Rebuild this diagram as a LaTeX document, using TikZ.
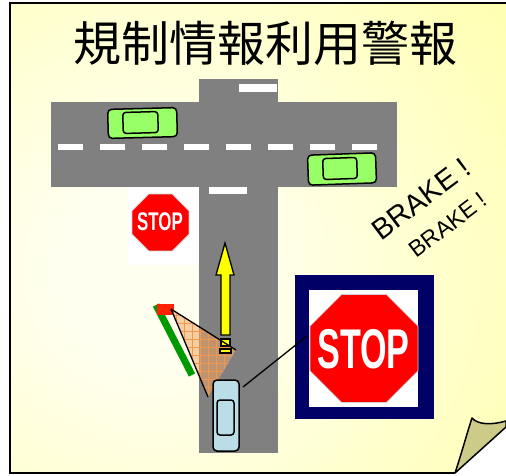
\documentclass[tikz,border=0pt]{standalone}
\usepackage{fontspec}
\setmainfont{Liberation Sans}
\newfontfamily\jpfont{Noto Sans CJK JP}
\usetikzlibrary{shapes.geometric,patterns.meta}

\definecolor{noteyellow}{HTML}{FFFF99}
\definecolor{notelight}{HTML}{FFFFF0}
\definecolor{roadgray}{HTML}{808080}
\definecolor{cargreen}{HTML}{99FF66}
\definecolor{egoblue}{HTML}{BBDDE6}
\definecolor{flapolive}{HTML}{CCCC88}
\definecolor{signred}{HTML}{FF0000}
\definecolor{signnavy}{HTML}{000066}
\definecolor{fanorange}{HTML}{F4A460}
\definecolor{fangrid}{HTML}{F09850}
\definecolor{sensorred}{HTML}{FF2200}
\definecolor{bargreen}{HTML}{009900}
\definecolor{arrowyellow}{HTML}{FFFF00}

% pale centre fading out to the yellow of the note
\pgfdeclareradialshading{notebg}{\pgfpoint{0bp}{0bp}}{%
  color(0bp)=(notelight); color(4bp)=(notelight); color(26bp)=(noteyellow); color(50bp)=(noteyellow)}

\tikzset{
  outline/.style={line width=1.5},
  car/.style={draw, line width=1.5, rounded corners=4, inner sep=0, outer sep=0},
  carwin/.style={draw, line width=1.5, rounded corners=3, inner sep=0, outer sep=0},
  octagon/.style={regular polygon, regular polygon sides=8, inner sep=0, outer sep=0,
    fill=signred, draw=black!18, line width=0.8},
  stoptext/.style={anchor=base, text=white, inner sep=0, font=\bfseries},
  braketext/.style={inner sep=0, font=\fontsize{#1}{#1}\selectfont},
  sensorline/.style={line width=1.3},
}

\begin{document}
\begin{tikzpicture}[x=1pt,y=-1pt]
\useasboundingbox (0,0) rectangle (506,475);

% the note paper
\begin{scope}
  \clip (10,3) -- (506,3) -- (506,427) -- (455,473) -- (10,473) -- cycle;
  \shade[shading=notebg] (150,270) circle (560);
\end{scope}
\draw[outline] (506,3) -- (10,3) -- (10,473) -- (455,473);
% curled corner
\filldraw[fill=flapolive, outline, line join=round]
  (455,473) .. controls (462,452) and (467,433) .. (472,418)
  .. controls (478,425) and (492,425) .. (506,421) -- (506,427) -- cycle;

% title
\node[font=\jpfont\fontsize{48}{48}\selectfont, inner sep=0] (title) at (265,43) {規制情報利用警報};

% roads
\fill[roadgray] (51,102) rectangle (397,187);
\fill[roadgray] (199,79) rectangle (278,453);
\foreach \x in {58,100,...,352} \fill[white] (\x,144) rectangle ++(25,6);
\fill[white] (239,84) rectangle (277,92);
\fill[white] (209,187) rectangle (247,194);

% other cars
\node[car, fill=cargreen, minimum width=69, minimum height=29, rotate=1.5] (carA) at (142.5,123) {};
\node[carwin, fill=cargreen, minimum width=35, minimum height=21, rotate=1.5] (winA) at (140.5,122.5) {};
\node[car, fill=cargreen, minimum width=68, minimum height=30, rotate=2] (carB) at (342,169) {};
\node[carwin, fill=cargreen, minimum width=34, minimum height=21, rotate=2] (winB) at (340,168.5) {};

% roadside stop sign
\node[fill=white, minimum width=71, minimum height=78, inner sep=0] (signbgA) at (163.5,226) {};
\node[octagon, minimum size=61.6] (octA) at (160.5,222.5) {};
\node[stoptext, font=\bfseries\fontsize{25.6}{26}\selectfont, xscale=0.66] (stopA) at (160,230) {STOP};

% roadside sensor
\draw[bargreen, line width=7] (156,305) -- (192,375);
\fill[sensorred] (157,304) rectangle (174,315);
\coordinate (sensor) at (171,309);
\coordinate (fanR) at (236,350);
\coordinate (fanB) at (208,397);
\fill[fanorange, fill opacity=0.55] (sensor) -- (fanR) -- (fanB) -- cycle;
\fill[pattern={Hatch[angle=0, distance=8pt, line width=0.7pt]}, pattern color=fangrid]
  (sensor) -- (fanR) -- (fanB) -- cycle;

% travel direction
\filldraw[fill=arrowyellow, line width=1.3, line join=miter]
  (225,243) -- (234,275) -- (230,275) -- (230,335) -- (221,335) -- (221,275) -- (216,275) -- cycle;
\filldraw[fill=arrowyellow, line width=1.3] (221,339) rectangle (230,346);
\filldraw[fill=arrowyellow, line width=1.3] (220,349) rectangle (231,353);

\draw[sensorline] (sensor) -- (fanR);
\draw[sensorline] (sensor) -- (fanB);

% own vehicle
\node[car, fill=egoblue, minimum width=26, minimum height=71] (ego) at (226,415.5) {};
\node[carwin, fill=egoblue, minimum width=17, minimum height=35] (egowin) at (225.5,417.5) {};

% in-vehicle display
\node[fill=signnavy, minimum width=139, minimum height=144, inner sep=0] (display) at (364.5,347) {};
\node[fill=white, minimum width=109, minimum height=117, inner sep=0] (displaybg) at (363.5,348.5) {};
\node[octagon, minimum size=117] (octB) at (364,348.5) {};
\node[stoptext, font=\bfseries\fontsize{56}{56}\selectfont, xscale=0.61] (stopB) at (363.5,368) {STOP};

\coordinate (calloutA) at (243,387);
\coordinate (calloutB) at (307,336);
\draw[sensorline] (calloutA) -- (calloutB);

% warning texts
\node[braketext=29, rotate=37] (brakeA) at (421,199) {BRAKE !};
\node[braketext=23, rotate=37] (brakeB) at (448,225) {BRAKE !};
\end{tikzpicture}
\end{document}
